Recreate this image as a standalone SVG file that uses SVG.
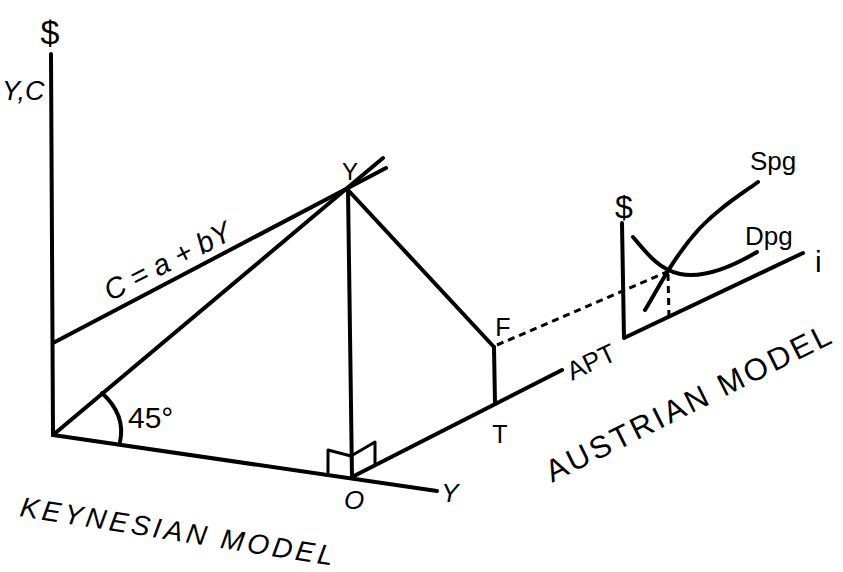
<svg xmlns="http://www.w3.org/2000/svg" width="843" height="572" viewBox="0 0 843 572">
<style>
.ln{stroke:#000;stroke-width:4;fill:none;stroke-linecap:round;stroke-linejoin:round}
.th{stroke:#000;stroke-width:3;fill:none;stroke-linecap:round;stroke-linejoin:round}
.ds{stroke:#000;stroke-width:3;fill:none;stroke-dasharray:7,5}
.t{font-family:"Liberation Sans",Arial,sans-serif;fill:#000}
</style>
<rect width="843" height="572" fill="#fff"/>
<g id="connectors">
<line class="ln" x1="51" y1="54" x2="53" y2="435"/>
<line class="ln" x1="53" y1="435" x2="437" y2="491"/>
<line class="ln" x1="53" y1="435" x2="383" y2="158"/>
<line class="ln" x1="53" y1="343" x2="386" y2="168"/>
<line class="ln" x1="348" y1="190" x2="352" y2="477"/>
<line class="ln" x1="348" y1="190" x2="494" y2="347"/>
<line class="ln" x1="494" y1="347" x2="495" y2="404"/>
<line class="ln" x1="352" y1="477" x2="562" y2="370"/>
<path class="ln" d="M102,393 Q126,415 120,442"/>
<path class="th" d="M328,472 L328,450 L351,456 L375,442 L375,465"/>
<line class="ds" x1="497" y1="345" x2="667" y2="272"/>
</g>
<g id="austrian-graph">
<polyline class="ln" points="622,223 624,338 803,253"/>
<path class="ln" d="M645,310 C660,285 675,255 700,228 C720,207 740,195 758,182"/>
<path class="ln" d="M633,237 C648,255 660,270 680,274 C705,279 735,265 757,252"/>
<line class="ds" x1="668" y1="274" x2="669" y2="317"/>
</g>
<g id="labels">
<text class="t" x="50" y="44" font-size="34" text-anchor="middle">$</text>
<text class="t" x="2" y="100" font-size="27" font-style="italic">Y,C</text>
<text class="t" x="350" y="180" font-size="24" text-anchor="middle">Y</text>
<text class="t" transform="translate(172,270) rotate(-27)" font-size="29" font-style="italic" text-anchor="middle">C = a + bY</text>
<text class="t" x="128" y="428" font-size="30">45°</text>
<text class="t" x="354" y="509" font-size="26" font-style="italic" text-anchor="middle">O</text>
<text class="t" x="450" y="502" font-size="26" font-style="italic" text-anchor="middle">Y</text>
<text class="t" x="503" y="336" font-size="25" text-anchor="middle">F</text>
<text class="t" x="500" y="443" font-size="25" text-anchor="middle">T</text>
<text class="t" transform="translate(595,370) rotate(-25)" font-size="26" text-anchor="middle">APT</text>
<text class="t" x="624" y="218" font-size="32" text-anchor="middle">$</text>
<text class="t" x="750" y="170" font-size="26">Spg</text>
<text class="t" x="745" y="245" font-size="26">Dpg</text>
<text class="t" x="815" y="272" font-size="30">i</text>
<text class="t" transform="translate(694,412) rotate(-26.5)" font-size="31" letter-spacing="3" text-anchor="middle">AUSTRIAN MODEL</text>
<text class="t" transform="translate(177,541) rotate(9)" font-size="28" font-style="italic" letter-spacing="3.5" text-anchor="middle">KEYNESIAN MODEL</text>
</g>
</svg>
